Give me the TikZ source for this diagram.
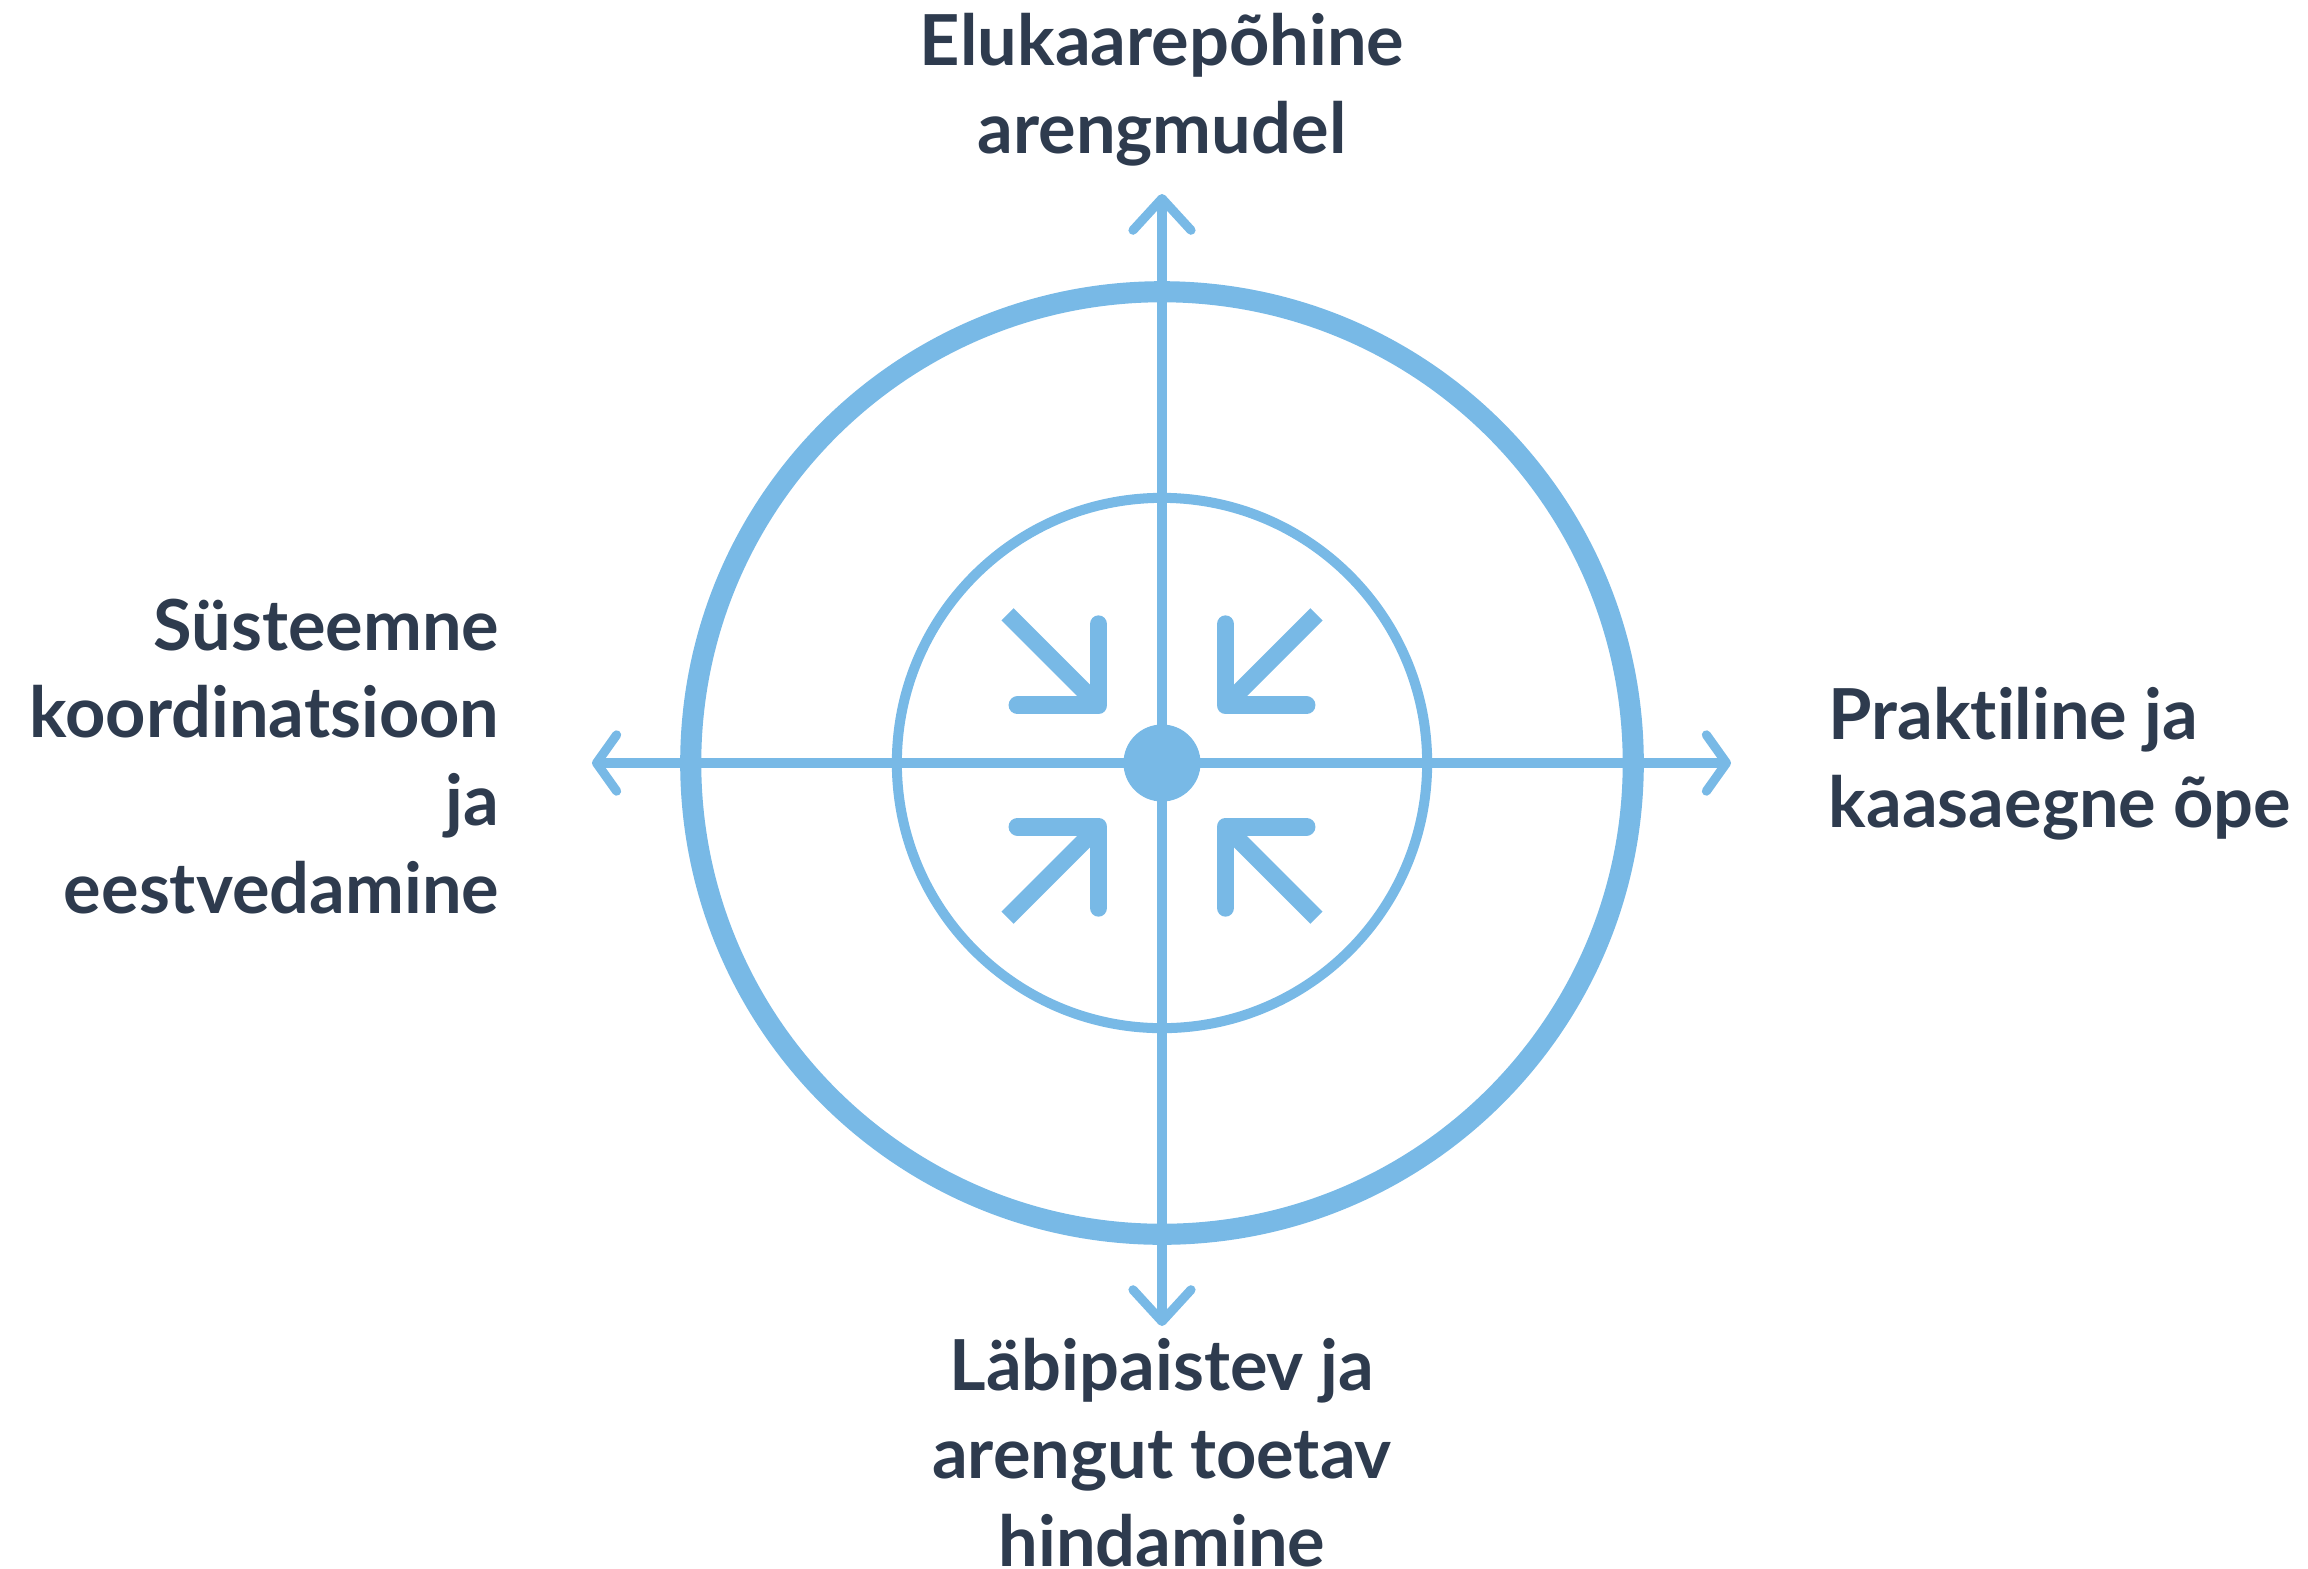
\documentclass[tikz,border=0pt]{standalone}
\usepackage{fontspec}
\setmainfont{Lato}[Ligatures=NoCommon]
\usetikzlibrary{arrows.meta}

\definecolor{ringblue}{RGB}{120,185,230}
\definecolor{labelink}{RGB}{46,59,78}

\begin{document}
\begin{tikzpicture}[x=0.01cm,y=-0.01cm,
    axis/.style={ringblue,line width=2.6pt},
    hbarb/.style={{Straight Barb[round,length=5.7pt,width=16pt]}-{Straight Barb[round,length=5.7pt,width=16pt]}},
    vbarb/.style={{Straight Barb[round,length=9pt,width=16.5pt]}-{Straight Barb[round,length=9pt,width=16.5pt]}},
    axislabel/.style={text=labelink,inner sep=0pt,
      font=\fontsize{20}{24.9}\selectfont\bfseries},
    shaft/.style={ringblue,line width=4.9pt},
    headbar/.style={ringblue,line width=5.1pt,line cap=round,line join=round}]
  \useasboundingbox (0,0) rectangle (2308,1569);

  \coordinate (c) at (1162,763);
  % ends of the two axes
  \coordinate (west) at (592,763);
  \coordinate (east) at (1731,763);
  \coordinate (north) at (1162,194);
  \coordinate (south) at (1162,1326);

  % rings
  \draw[ringblue,line width=6pt] (c) circle [radius=4.71cm];
  \draw[ringblue,line width=2.85pt] (c) circle [radius=2.65cm];

  \draw[axis,hbarb] (west) -- (east);
  \draw[axis,vbarb] (south) -- (north);
  \node[circle,fill=ringblue,inner sep=0pt,minimum size=0.77cm] (hub) at (c) {};

  % four arrows pointing in
  \foreach \sx/\sy in {-1/-1,1/-1,-1/1,1/1} {
    \coordinate (tip) at ({1162+\sx*63.5},{766+\sy*60.7});
    \draw[shaft] (tip) -- ++({\sx*91},{\sy*91});
    \draw[headbar] (tip) ++({\sx*81},0) -- (tip) -- ++(0,{\sy*81});
  }

  % labels, anchored on the baseline of their last line
  \node[axislabel,align=center,anchor=base] (lifecycle) at (1162,153)
    {Elukaarepõhine\\arengmudel};
  \node[axislabel,align=left,anchor=base west] (practice) at (1828,827)
    {Praktiline ja\\kaasaegne õpe};
  \node[axislabel,align=center,anchor=base] (assessment) at (1162,1566)
    {Läbipaistev ja\\arengut toetav\\hindamine};
  \node[axislabel,align=right,anchor=base east] (leadership) at (500,913)
    {Süsteemne\\koordinatsioon\\ja\\eestvedamine};
\end{tikzpicture}
\end{document}
